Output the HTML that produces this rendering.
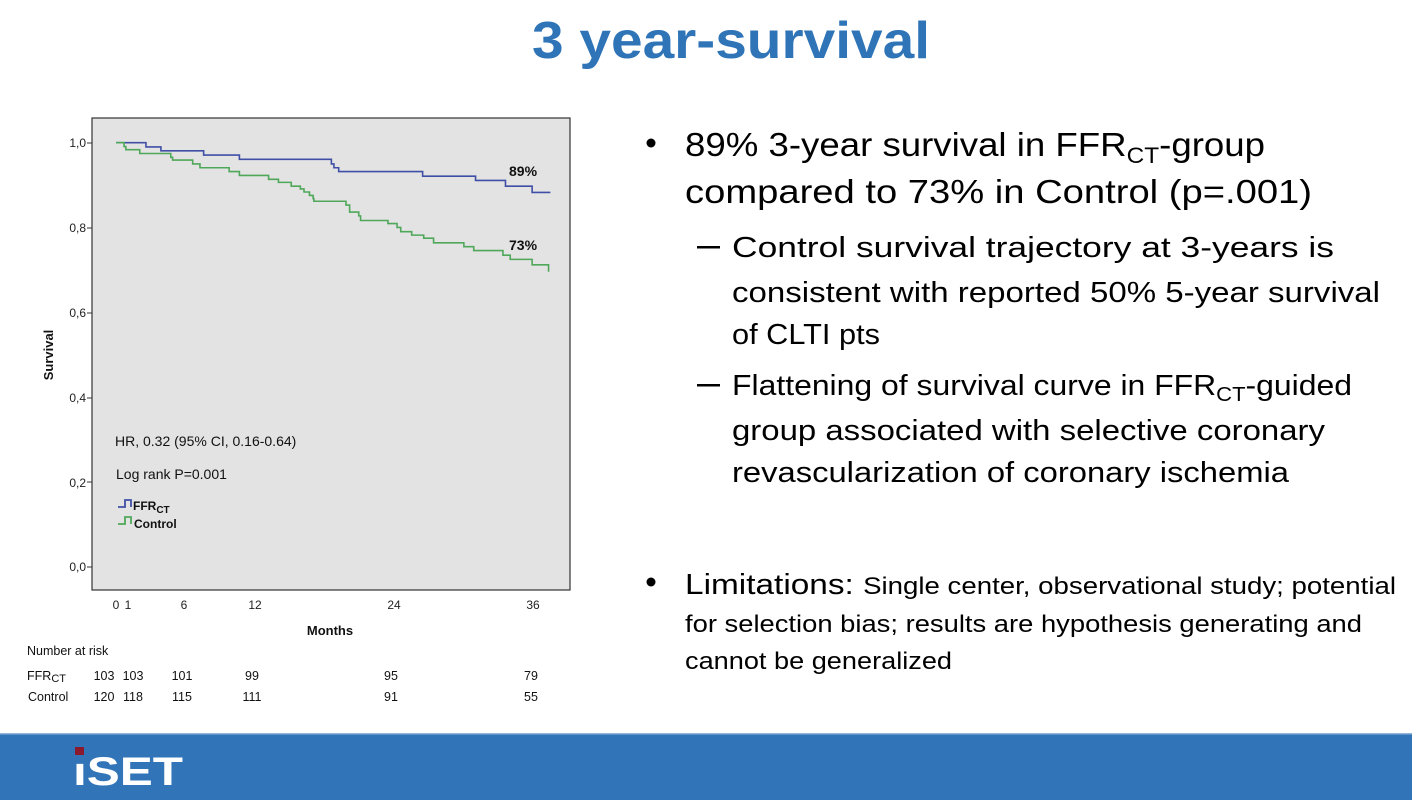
<!DOCTYPE html>
<html><head><meta charset="utf-8"><style>
html,body{margin:0;padding:0;background:#fff;}
body{width:1412px;height:800px;position:relative;overflow:hidden;font-family:"Liberation Sans",sans-serif;}
</style></head><body>
<svg width="1412" height="800" viewBox="0 0 1412 800" xmlns="http://www.w3.org/2000/svg" style="position:absolute;left:0;top:0">
<text x="731" y="58" text-anchor="middle" font-family="Liberation Sans, sans-serif" font-weight="bold" font-size="52" fill="#2f74b7" textLength="398" lengthAdjust="spacingAndGlyphs">3 year-survival</text>

<!-- chart -->
<rect x="92" y="118" width="478" height="472" fill="#e3e3e3" stroke="#333" stroke-width="1.2"/>
<g font-size="12" fill="#222" text-anchor="end">
<text x="86" y="147">1,0</text><text x="86" y="232">0,8</text><text x="86" y="317">0,6</text>
<text x="86" y="402">0,4</text><text x="86" y="487">0,2</text><text x="86" y="571">0,0</text>
</g>
<g stroke="#333" stroke-width="1">
<line x1="87" y1="143" x2="92" y2="143"/><line x1="87" y1="228" x2="92" y2="228"/><line x1="87" y1="313" x2="92" y2="313"/>
<line x1="87" y1="398" x2="92" y2="398"/><line x1="87" y1="482" x2="92" y2="482"/><line x1="87" y1="567" x2="92" y2="567"/>
</g>
<text transform="translate(53,355) rotate(-90)" text-anchor="middle" font-size="13" font-weight="bold" fill="#111">Survival</text>
<g font-size="12" fill="#222" text-anchor="middle">
<text x="116" y="609">0</text><text x="128" y="609">1</text><text x="184" y="609">6</text><text x="255" y="609">12</text><text x="394" y="609">24</text><text x="533" y="609">36</text>
</g>
<text x="330" y="635" text-anchor="middle" font-size="13" font-weight="bold" fill="#111">Months</text>

<g transform="translate(19.3,110) scale(0.365,0.385)" fill="none">
<path vector-effect="non-scaling-stroke" stroke="#3f4fa6" stroke-width="1.6" d="M265 85 H347 V96 H388 V106 H505 V117 H603 V128 H855 V140 H862 V150 H875 V160 H1105 V172 H1250 V183 H1332 V198 H1405 V214 H1455"/>
<path vector-effect="non-scaling-stroke" stroke="#4fa85a" stroke-width="1.6" d="M265 85 H287 V95 H292 V103 H330 V113 H415 V123 H420 V130 H475 V140 H495 V150 H575 V160 H603 V170 H683 V180 H710 V188 H745 V198 H770 V205 H780 V213 H795 V222 H805 V230 H807 V237 H895 V247 H905 V265 H930 V275 H935 V287 H1010 V295 H1035 V305 H1045 V316 H1075 V325 H1108 V333 H1135 V345 H1218 V355 H1245 V365 H1325 V377 H1345 V388 H1405 V402 H1450 V420"/>
</g>
<g font-size="14" font-weight="bold" fill="#111">
<text x="509" y="176">89%</text><text x="509" y="250">73%</text>
</g>
<g font-size="14" fill="#111">
<text x="115" y="446">HR, 0.32 (95% CI, 0.16-0.64)</text>
<text x="116" y="479">Log rank P=0.001</text>
</g>
<path d="M118 507 H125 V500 H131 V507" fill="none" stroke="#3f4fa6" stroke-width="1.8"/>
<path d="M118 524 H125 V517 H131 V524" fill="none" stroke="#4fa85a" stroke-width="1.8"/>
<g font-size="12" font-weight="bold" fill="#111">
<text x="133" y="510">FFR<tspan font-size="10" dy="3">CT</tspan></text>
<text x="134" y="528">Control</text>
</g>
<g font-size="12.5" fill="#111">
<text x="27" y="655">Number at risk</text>
<text x="27" y="680">FFR<tspan font-size="11" dy="2">CT</tspan></text>
<text x="28" y="701">Control</text>
</g>
<g font-size="12.5" fill="#111" text-anchor="middle">
<text x="104" y="680">103</text><text x="133" y="680">103</text><text x="182" y="680">101</text><text x="252" y="680">99</text><text x="391" y="680">95</text><text x="531" y="680">79</text>
<text x="104" y="701">120</text><text x="133" y="701">118</text><text x="182" y="701">115</text><text x="252" y="701">111</text><text x="391" y="701">91</text><text x="531" y="701">55</text>
</g>

<!-- right text -->
<g font-family="Liberation Sans, sans-serif" fill="#000">
<circle cx="651" cy="143" r="4.5"/>
<text x="685" y="156" font-size="33" textLength="580" lengthAdjust="spacingAndGlyphs">89% 3-year survival in FFR<tspan font-size="22" dy="7">CT</tspan><tspan dy="-7">-group</tspan></text>
<text x="685" y="203" font-size="33" textLength="627" lengthAdjust="spacingAndGlyphs">compared to 73% in Control (p=.001)</text>
<rect x="697" y="246" width="23" height="2.5"/>
<text x="732" y="257" font-size="29" textLength="602" lengthAdjust="spacingAndGlyphs">Control survival trajectory at 3-years is</text>
<text x="732" y="302" font-size="29" textLength="648" lengthAdjust="spacingAndGlyphs">consistent with reported 50% 5-year survival</text>
<text x="732" y="344" font-size="29" textLength="148" lengthAdjust="spacingAndGlyphs">of CLTI pts</text>
<rect x="697" y="384" width="23" height="2.5"/>
<text x="732" y="395" font-size="29" textLength="620" lengthAdjust="spacingAndGlyphs">Flattening of survival curve in FFR<tspan font-size="20" dy="6">CT</tspan><tspan dy="-6">-guided</tspan></text>
<text x="732" y="440" font-size="29" textLength="593" lengthAdjust="spacingAndGlyphs">group associated with selective coronary</text>
<text x="732" y="482" font-size="29" textLength="557" lengthAdjust="spacingAndGlyphs">revascularization of coronary ischemia</text>
<circle cx="651" cy="582" r="4.5"/>
<text x="685" y="594" font-size="29" textLength="711" lengthAdjust="spacingAndGlyphs">Limitations: <tspan font-size="24">Single center, observational study; potential</tspan></text>
<text x="685" y="632" font-size="24" textLength="677" lengthAdjust="spacingAndGlyphs">for selection bias; results are hypothesis generating and</text>
<text x="685" y="669" font-size="24" textLength="267" lengthAdjust="spacingAndGlyphs">cannot be generalized</text>
</g>

<!-- footer -->
<rect x="0" y="733" width="1412" height="67" fill="#3174b8"/>
<rect x="0" y="733" width="1412" height="1.5" fill="#8fb5db"/>
<rect x="75" y="747" width="9" height="8" fill="#8b1a2e"/>
<text x="73" y="785" font-size="40" font-weight="bold" fill="#fff" textLength="110" lengthAdjust="spacingAndGlyphs">ıSET</text>
</svg>
</body></html>
